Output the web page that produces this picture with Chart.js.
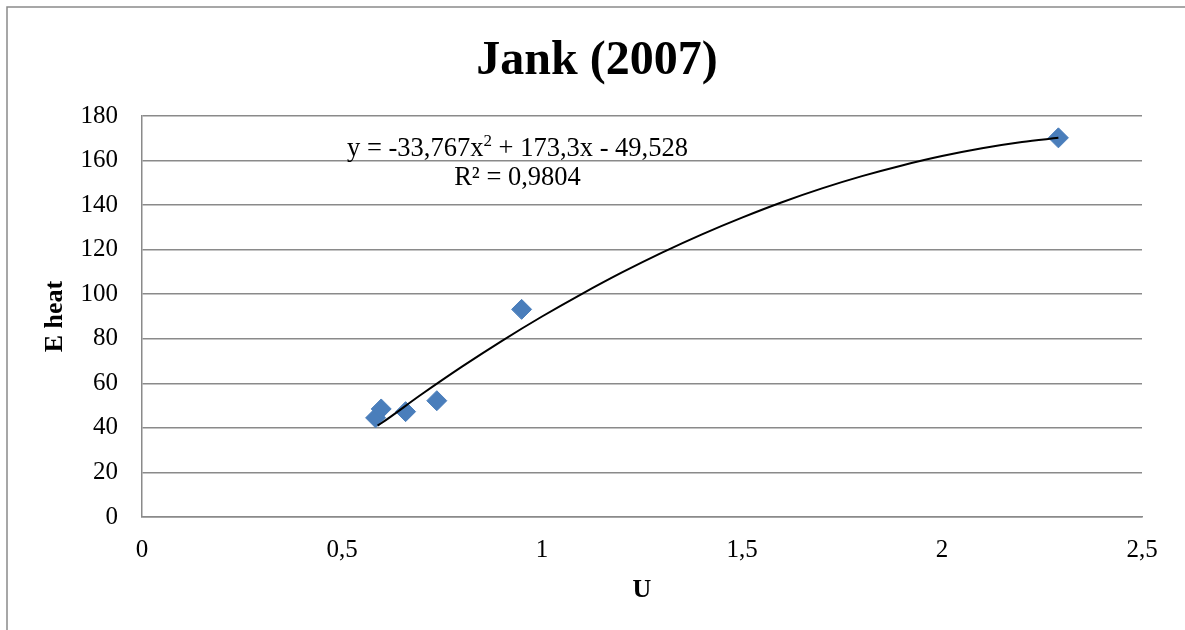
<!DOCTYPE html>
<html lang="pt-br">
<head>
  <meta charset="UTF-8">
  <title>Jank (2007)</title>
  <script src="https://cdn.jsdelivr.net/npm/chart.js"></script>
  <style>
    html, body { margin: 0; padding: 0; background: #fff; }
    #wrap { width: 1185px; height: 630px; }
  </style>
</head>
<body>
  <div id="wrap"><canvas id="grafico"></canvas></div>

  <script>
    // Dados medidos (U, E heat)
    const uValores = [0.584, 0.598, 0.659, 0.737, 0.949, 2.291];
    const eHeat = [44.5, 48.5, 47.3, 52.2, 93.2, 170.2];

    // Linha de tendência (polinomial)
    const tendU = [0.589, 0.6, 0.7, 0.8, 0.9, 1.0, 1.1, 1.2, 1.3, 1.4, 1.5, 1.6, 1.7, 1.8, 1.9, 2.0, 2.1, 2.2, 2.291];
    const tendE = [41.0, 42.3, 55.2, 67.5, 79.1, 90.0, 100.2, 109.8, 118.7, 126.9, 134.4, 141.3, 147.5, 153.0, 157.8, 162.0, 165.5, 168.3, 170.2];

    const titulo = 'Jank (2007)';
    const eqLinha1 = ['y = -33,767x', '2', ' + 173,3x - 49,528'];
    const eqLinha2 = 'R² = 0,9804';

    const fonte = "'Liberation Serif', 'Times New Roman', serif";

    // Moldura, título e equação
    const extras = {
      id: 'extras',
      beforeDraw(chart) {
        const ctx = chart.ctx;
        ctx.save();
        ctx.strokeStyle = '#8a8a8a';
        ctx.lineWidth = 1.5;
        ctx.strokeRect(7, 7, 1400, 800);
        ctx.restore();
      },
      afterDraw(chart) {
        const ctx = chart.ctx;
        const a = chart.chartArea;
        ctx.save();
        ctx.fillStyle = '#000';
        ctx.textBaseline = 'alphabetic';

        ctx.font = 'bold 48px ' + fonte;
        ctx.textAlign = 'center';
        ctx.fillText(titulo, 597, 74);

        // equação
        const cx = a.left + (a.right - a.left) * 0.3755;
        ctx.textAlign = 'left';
        ctx.font = '26.5px ' + fonte;
        const w1 = ctx.measureText(eqLinha1[0]).width;
        const w3 = ctx.measureText(eqLinha1[2]).width;
        ctx.font = '17px ' + fonte;
        const w2 = ctx.measureText(eqLinha1[1]).width;
        let x = cx - (w1 + w2 + w3) / 2;
        ctx.font = '26.5px ' + fonte;
        ctx.fillText(eqLinha1[0], x, 156);
        x += w1;
        ctx.font = '17px ' + fonte;
        ctx.fillText(eqLinha1[1], x, 146);
        x += w2;
        ctx.font = '26.5px ' + fonte;
        ctx.fillText(eqLinha1[2], x, 156);

        ctx.textAlign = 'center';
        ctx.fillText(eqLinha2, cx, 185);
        ctx.restore();
      }
    };

    const virgula = v => String(v).replace('.', ',');

    new Chart(document.getElementById('grafico'), {
      type: 'scatter',
      data: {
        datasets: [
          {
            label: 'Tendência',
            type: 'line',
            data: tendU.map((u, i) => ({ x: u, y: tendE[i] })),
            borderColor: '#000',
            borderWidth: 2,
            pointRadius: 0,
            fill: false,
            cubicInterpolationMode: 'monotone',
            order: 0
          },
          {
            label: 'E heat',
            data: uValores.map((u, i) => ({ x: u, y: eHeat[i] })),
            pointStyle: 'rectRot',
            pointRadius: 10,
            pointHoverRadius: 10,
            backgroundColor: '#4a7ebb',
            borderColor: '#4a7ebb',
            borderWidth: 1,
            order: 1
          }
        ]
      },
      options: {
        responsive: true,
        maintainAspectRatio: false,
        animation: false,
        layout: { padding: { top: 116, right: 43, left: 0, bottom: 0 } },
        plugins: {
          legend: { display: false },
          tooltip: { enabled: false }
        },
        scales: {
          x: {
            type: 'linear',
            min: 0,
            max: 2.5,
            ticks: {
              stepSize: 0.5,
              padding: 18,
              color: '#000',
              font: { family: fonte, size: 25 },
              callback: v => virgula(v)
            },
            grid: { display: false, drawTicks: false },
            border: { display: true, color: '#8a8a8a', width: 1.5 },
            title: {
              display: true,
              text: 'U',
              color: '#000',
              font: { family: fonte, size: 26, weight: 'bold' },
              padding: { top: 0, bottom: 24 }
            },
            afterFit: s => { s.height = 113; }
          },
          y: {
            min: 0,
            max: 180,
            ticks: {
              stepSize: 20,
              padding: 24,
              color: '#000',
              font: { family: fonte, size: 25 },
              callback: v => virgula(v)
            },
            grid: { color: '#8a8a8a', lineWidth: 1.5, drawTicks: false },
            border: { display: true, color: '#8a8a8a', width: 1.5 },
            title: {
              display: true,
              text: 'E heat',
              color: '#000',
              font: { family: fonte, size: 26, weight: 'bold' },
              padding: { top: 40, bottom: 0 }
            },
            afterFit: s => { s.width = 142; }
          }
        }
      },
      plugins: [extras]
    });
  </script>
</body>
</html>
